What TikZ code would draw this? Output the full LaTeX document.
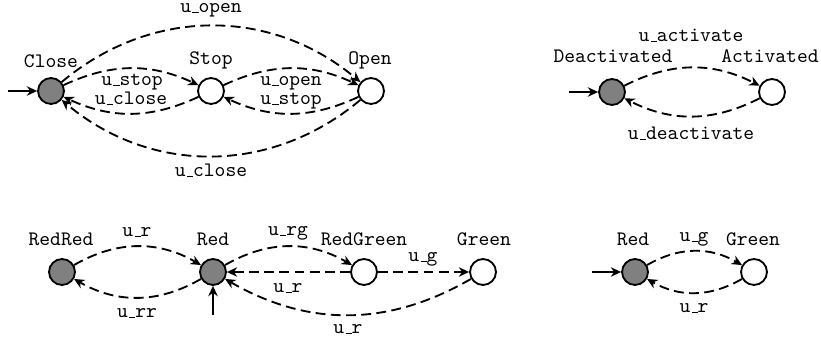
\documentclass[tikz,border=0pt]{standalone}
\usetikzlibrary{arrows.meta}
% typewriter-style underscore: a short rule sitting on the baseline
\newcommand\us{\leavevmode\kern.06em\vbox{\hrule width.3em height 0.5pt}}
\begin{document}
\begin{tikzpicture}[x=0.486pt, y=-0.486pt,
  st/.style={circle, draw, line width=0.9pt, minimum size=12.6pt, inner sep=0pt, fill=white},
  startst/.style={st, fill=gray},
  tip/.style={-{Stealth[length=5pt, width=4.6pt, inset=1.6pt]}},
  trans/.style={line width=0.9pt, dash pattern=on 4.8pt off 2.6pt, tip},
  entry/.style={line width=0.9pt, tip},
  lbl/.style={font=\ttfamily, anchor=base, inner sep=0pt}]
\useasboundingbox (0,0) rectangle (821,343);

% ---- door automaton ----
\node[startst] (close) at (51,91) {};
\node[st] (stop) at (211,91) {};
\node[st] (open) at (371,91) {};
\coordinate (closein) at (8,91);
\draw[entry] (closein) -- (close);
\draw[trans] (close) to[bend left=40] (open);
\draw[trans] (close) to[bend left=25] (stop);
\draw[trans] (stop) to[bend left=25] (close);
\draw[trans] (stop) to[bend left=25] (open);
\draw[trans] (open) to[bend left=25] (stop);
\draw[trans] (open) to[bend left=40] (close);
\node[lbl] (tclose) at (51,68) {Close};
\node[lbl] (tstop) at (211,65) {Stop};
\node[lbl] (topen) at (370,65) {Open};
\node[lbl] (e1) at (211,13) {u\us open};
\node[lbl] (e2) at (132,86) {u\us stop};
\node[lbl] (e3) at (131,105) {u\us close};
\node[lbl] (e4) at (291,86) {u\us open};
\node[lbl] (e5) at (291,105) {u\us stop};
\node[lbl] (e6) at (211,177) {u\us close};

% ---- activation automaton ----
\node[startst] (deact) at (612,92) {};
\node[st] (act) at (772,92) {};
\coordinate (deactin) at (569,92);
\draw[entry] (deactin) -- (deact);
\draw[trans] (deact) to[bend left=27] (act);
\draw[trans] (act) to[bend left=27] (deact);
\node[lbl] (tdeact) at (613,63) {Deactivated};
\node[lbl] (tact) at (770,63) {Activated};
\node[lbl] (e7) at (691,42) {u\us activate};
\node[lbl] (e8) at (691,140) {u\us deactivate};

% ---- traffic light automaton ----
\node[startst] (redred) at (62,272) {};
\node[startst] (red) at (213,272) {};
\node[st] (redgreen) at (364,272) {};
\node[st] (green) at (483,272) {};
\coordinate (redin) at (213,315);
\draw[entry] (redin) -- (red);
\draw[trans] (redred) to[bend left=30] (red);
\draw[trans] (red) to[bend left=30] (redred);
\draw[trans] (red) to[bend left=30] (redgreen);
\draw[trans] (redgreen) -- (red);
\draw[trans] (redgreen) -- (green);
\draw[trans] (green) to[bend left=30] (red);
\node[lbl] (tredred) at (61,246) {RedRed};
\node[lbl] (tred) at (213,246) {Red};
\node[lbl] (tredgreen) at (364,246) {RedGreen};
\node[lbl] (tgreen) at (484,246) {Green};
\node[lbl] (e9) at (137,237) {u\us r};
\node[lbl] (e10) at (137,318) {u\us rr};
\node[lbl] (e11) at (288,236) {u\us rg};
\node[lbl] (e12) at (288,293) {u\us r};
\node[lbl] (e13) at (423,262) {u\us g};
\node[lbl] (e14) at (348,334) {u\us r};

% ---- two-state light ----
\node[startst] (red2) at (635,272) {};
\node[st] (green2) at (754,272) {};
\coordinate (red2in) at (592,272);
\draw[entry] (red2in) -- (red2);
\draw[trans] (red2) to[bend left=30] (green2);
\draw[trans] (green2) to[bend left=30] (red2);
\node[lbl] (tred2) at (633,246) {Red};
\node[lbl] (tgreen2) at (753,246) {Green};
\node[lbl] (e15) at (694,242) {u\us g};
\node[lbl] (e16) at (694,313) {u\us r};
\end{tikzpicture}
\end{document}
